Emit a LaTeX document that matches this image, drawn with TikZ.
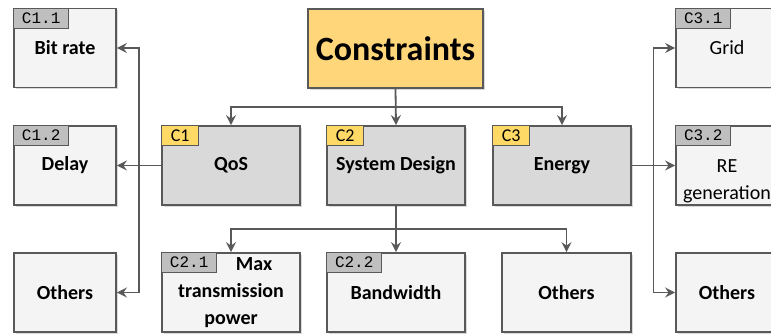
\documentclass[tikz,border=0pt]{standalone}
\usepackage{fontspec}
\setmainfont{Carlito}
\setmonofont{Liberation Mono}
\usetikzlibrary{arrows.meta,calc,shadows}
\definecolor{linegray}{HTML}{595959}
\definecolor{leafgray}{HTML}{F4F4F4}
\definecolor{midgray}{HTML}{D9D9D9}
\definecolor{consorange}{HTML}{FFD67A}
\definecolor{tagyellow}{HTML}{FFD966}
\definecolor{taggray}{HTML}{BFBFBF}

\begin{document}
\begin{tikzpicture}[x=1pt, y=-1pt,
    box/.style={draw=linegray, line width=1.8pt, minimum height=79pt, inner sep=0pt, align=center,
        font=\fontsize{20}{27}\selectfont\bfseries,
        drop shadow={shadow xshift=1.5pt, shadow yshift=-1.5pt, fill=black, opacity=0.15}},
    leaf/.style={box, fill=leafgray, minimum width=102pt},
    mainbox/.style={box, fill=midgray, minimum width=138pt},
    tagmono/.style={draw=linegray, line width=1.2pt, fill=taggray, anchor=north west, inner sep=0pt,
        minimum width=55pt, minimum height=20pt, font=\fontsize{16}{16}\selectfont\ttfamily},
    tagsans/.style={tagmono, fill=tagyellow, minimum width=37pt, font=\fontsize{18}{18}\selectfont},
    arr/.style={draw=linegray, line width=1.8pt, -{Stealth[length=10pt, width=10pt, inset=3.5pt]}}]

    \useasboundingbox (0, 0) rectangle (771, 333);

    % root
    \node[box, fill=consorange, minimum width=175pt, font=\fontsize{34}{40}\selectfont\bfseries] (cons) at (395.5, 48.5) {Constraints};

    % C1 .. C3
    \node[mainbox] (qos) at (231, 165.5) {QoS};
    \node[mainbox] (sysd) at (396, 165.5) {System Design};
    \node[mainbox] (energy) at (562, 165.5) {Energy};
    \node[tagsans] (t1) at (qos.north west) {C1};
    \node[tagsans] (t2) at (sysd.north west) {C2};
    \node[tagsans] (t3) at (energy.north west) {C3};

    % QoS side
    \node[leaf] (bitrate) at (65, 48) {Bit rate};
    \node[leaf] (delay) at (65, 165.5) {Delay};
    \node[leaf] (othersL) at (65, 292.5) {Others};
    \node[tagmono] (t11) at (bitrate.north west) {C1.1};
    \node[tagmono] (t12) at (delay.north west) {C1.2};

    % energy side
    \node[leaf, font=\fontsize{20}{27}\selectfont] (grid) at (727, 48) {Grid};
    \node[leaf] (regen) at (727, 165.5) {};
    \node[align=center, inner sep=0pt, font=\fontsize{20}{27}\selectfont] (regentxt) at ($(regen.center)+(0, 16)$) {RE\\generation};
    \node[leaf] (othersR) at (727, 292.5) {Others};
    \node[tagmono] (t31) at (grid.north west) {C3.1};
    \node[tagmono] (t32) at (regen.north west) {C3.2};

    % system design
    \node[leaf, minimum width=138pt] (maxpow) at (231, 292.5) {\hspace*{46pt}Max\\transmission\\power};
    \node[leaf, minimum width=138pt] (bandw) at (396, 292.5) {Bandwidth};
    \node[leaf, minimum width=129pt] (othersM) at (566.5, 292.5) {Others};
    \node[tagmono] (t21) at (maxpow.north west) {C2.1};
    \node[tagmono] (t22) at (bandw.north west) {C2.2};

    \coordinate (topbus) at ($(cons.south)!0.5!(sysd.north)$);
    \coordinate (botbus) at ($(sysd.south)!0.5!(bandw.north)$);
    \coordinate (ljoin) at ($(delay.east)!0.5!(qos.west)$);
    \coordinate (rjoin) at ($(energy.east)!0.5!(regen.west)$);

    \draw[arr] (cons.south) -- (sysd.north);
    \draw[arr] (topbus) -| (qos.north);
    \draw[arr] (topbus) -| (energy.north);

    \draw[arr] (sysd.south) -- (bandw.north);
    \draw[arr] (botbus) -| (maxpow.north);
    \draw[arr] (botbus) -| (othersM.north);

    \draw[arr] (qos.west) -- (delay.east);
    \draw[arr] (ljoin) |- (bitrate.east);
    \draw[arr] (ljoin) |- (othersL.east);

    \draw[arr] (energy.east) -- (regen.west);
    \draw[arr] (rjoin) |- (grid.west);
    \draw[arr] (rjoin) |- (othersR.west);

\end{tikzpicture}
\end{document}
